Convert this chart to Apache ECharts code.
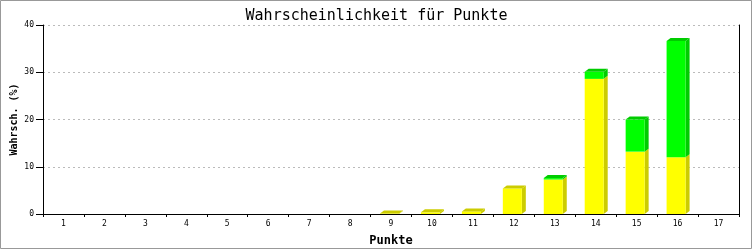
<!DOCTYPE html>
<html><head><meta charset="utf-8">
<script src="https://cdn.jsdelivr.net/npm/echarts@6/dist/echarts.min.js"></script>
<style>html,body{margin:0;padding:0;background:#fff}#c{width:753px;height:250px}</style>
</head><body><div id="c"></div>
<script>
const categories = ['1','2','3','4','5','6','7','8','9','10','11','12','13','14','15','16','17'];
const yellowValues = [0,0,0,0,0,0,0,0,0.1,0.35,0.55,5.4,7.3,28.6,13.2,12.0,0];
const greenValues  = [0,0,0,0,0,0,0,0,0,0,0,0,0.3,1.5,6.8,24.6,0];
const yTicks = [0,10,20,30,40];

const FONT = 'DejaVu Sans Mono';
const COLORS = {y:'#ffff00', yDark:'#cccc00', g:'#00ff00', gDark:'#00cc00'};

const chart = echarts.init(document.getElementById('c'), null, {renderer:'canvas'});
const data = categories.map((c,i)=>[i, yellowValues[i], greenValues[i]]);

function renderItem(params, api){
  const i = api.value(0), yv = api.value(1), gv = api.value(2);
  if (yv + gv <= 0) return null;
  const p0 = api.coord([i, 0]);
  const p1 = api.coord([i, yv]);
  const p2 = api.coord([i, yv + gv]);
  const bw = 19, dx = 4, dy = 3;
  const L = p0[0] - 11, R = L + bw;
  const y0 = p0[1], y1 = p1[1], y2 = p2[1];
  const ch = [];
  if (yv > 0) {
    ch.push({type:'polygon', shape:{points:[[R,y0],[R+dx,y0-dy],[R+dx,y1-dy],[R,y1]]}, style:{fill:COLORS.yDark}});
    ch.push({type:'rect', shape:{x:L, y:y1, width:bw, height:y0-y1}, style:{fill:COLORS.y}});
  }
  if (gv > 0) {
    ch.push({type:'polygon', shape:{points:[[R,y1],[R+dx,y1-dy],[R+dx,y2-dy],[R,y2]]}, style:{fill:COLORS.gDark}});
    ch.push({type:'rect', shape:{x:L, y:y2, width:bw, height:y1-y2}, style:{fill:COLORS.g}});
  }
  const topCol = gv > 0 ? COLORS.gDark : COLORS.yDark;
  ch.push({type:'polygon', shape:{points:[[L,y2],[L+dx,y2-dy],[R+dx,y2-dy],[R,y2]]}, style:{fill:topCol}});
  return {type:'group', children:ch};
}

chart.setOption({
  animation:false,
  backgroundColor:'#fff',
  title:{text:'Wahrscheinlichkeit für Punkte', left:'center', top:4,
    textStyle:{fontFamily:FONT, fontSize:15, fontWeight:'normal', color:'#000'}},
  grid:{left:43, right:14, top:25, bottom:36, containLabel:false, outerBoundsMode:'none'},
  xAxis:{type:'category', data:categories, boundaryGap:true,
    name:'Punkte', nameLocation:'middle', nameGap:21, nameMoveOverlap:false,
    nameTextStyle:{fontFamily:FONT, fontSize:12, fontWeight:'bold', color:'#000'},
    axisLine:{lineStyle:{color:'#000', width:1}},
    axisTick:{show:true, alignWithLabel:false, length:3, lineStyle:{color:'#000'}},
    axisLabel:{fontFamily:FONT, fontSize:8, color:'#000', margin:6},
    splitLine:{show:false}},
  yAxis:[{type:'value', min:0, max:40, interval:10,
    name:'Wahrsch. (%)', nameLocation:'middle', nameGap:24, nameMoveOverlap:false,
    nameTextStyle:{fontFamily:FONT, fontSize:10, fontWeight:'bold', color:'#000'},
    axisLine:{show:true, lineStyle:{color:'#000', width:1}},
    axisTick:{show:true, length:7, lineStyle:{color:'#000'}},
    axisLabel:{fontFamily:FONT, fontSize:8, color:'#000', margin:9,
      formatter:v=> yTicks.includes(v) ? String(v) : ''},
    splitLine:{show:true, lineStyle:{color:'#bbbbbb', type:[2,3], width:1}}},
   {type:'value', min:0, max:40, interval:10, position:'right',
    axisLine:{show:true, lineStyle:{color:'#000', width:1}},
    axisTick:{show:false}, axisLabel:{show:false}, splitLine:{show:false}}],
  series:[{type:'custom', renderItem:renderItem, data:data, encode:{x:0, y:[1,2]}, clip:false}],
  graphic:[{type:'rect', shape:{x:0.5, y:0.5, width:751, height:248}, style:{fill:null, stroke:'#999', lineWidth:1}, silent:true, z:100}]
});
</script></body></html>
